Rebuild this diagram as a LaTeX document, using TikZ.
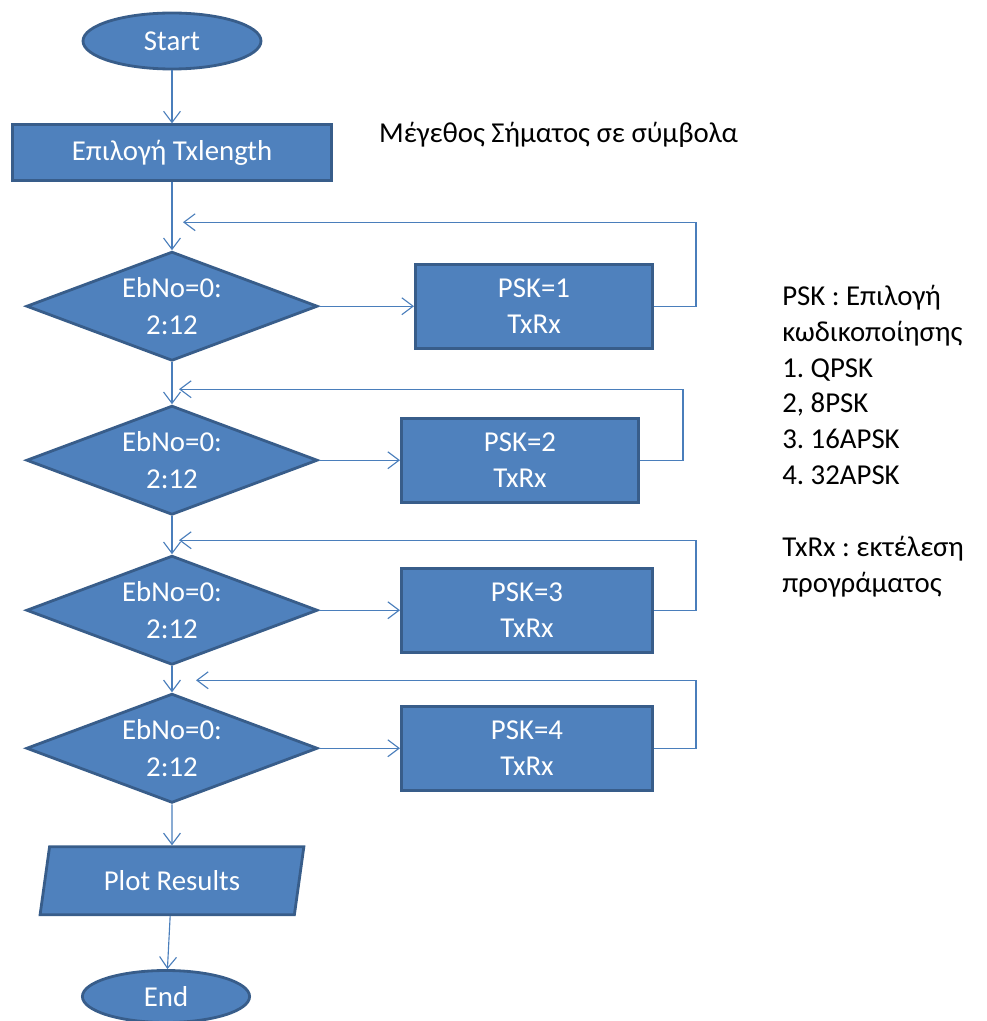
\documentclass[tikz,border=0pt]{standalone}
\usepackage{fontspec}
\setmainfont{Carlito}
\usetikzlibrary{shapes.geometric, positioning, arrows.meta}

\definecolor{boxfill}{HTML}{4F81BD}
\definecolor{boxline}{HTML}{385D8A}
\definecolor{flowline}{HTML}{4A7EBB}

\tikzset{
  base/.style={draw=boxline, fill=boxfill, line width=2pt, text=white,
    font=\fontsize{20.5}{26}\selectfont, align=center, inner sep=2pt},
  terminal/.style={base, ellipse, minimum width=4.45cm, minimum height=1.4cm},
  process/.style={base, rectangle, minimum width=5.93cm, minimum height=2.1cm},
  decision/.style={base, diamond, aspect=2.65, inner sep=0pt,
    minimum width=7.28cm, minimum height=2.73cm},
  io/.style={base, trapezium, trapezium left angle=78, trapezium right angle=102,
    trapezium stretches=true, minimum width=6.6cm, minimum height=1.7cm},
  flow/.style={draw=flowline, line width=0.8pt, -{Straight Barb[length=8pt,width=12pt]}},
  note/.style={font=\fontsize{20.5}{25.5}\selectfont\frenchspacing, align=left, inner sep=0pt}
}

\begin{document}
\begin{tikzpicture}
  \useasboundingbox (0,0) rectangle (24.65,-25.525);

  % main column
  \node[terminal] (start) at (4.3,-1.025) {Start};
  \node[base, minimum width=7.975cm, minimum height=1.4cm] (sel) [below=1.325cm of start] {Επιλογή Txlength};
  \node[decision] (d_1) [below=1.7cm of sel] {EbNo=0:\\2:12};
  \node[decision] (d_2) [below=1.05cm of d_1] {EbNo=0:\\2:12};
  \node[decision] (d_3) [below=0.95cm of d_2] {EbNo=0:\\2:12};
  \node[decision] (d_4) [below=0.65cm of d_3] {EbNo=0:\\2:12};
  \node[io] (plot) [below=1.025cm of d_4] {Plot Results};
  \node[terminal, minimum width=4.18cm, minimum height=1.3cm] (stop) [below=1.325cm of plot, xshift=-0.15cm] {End};

  % PSK runs
  \node[process] (p_1) [right=2.375cm of d_1] {PSK=1\\TxRx};
  \node[process] (p_2) [right=2.025cm of d_2] {PSK=2\\TxRx};
  \node[process, minimum width=6.28cm] (p_3) [right=2.025cm of d_3] {PSK=3\\TxRx};
  \node[process, minimum width=6.28cm] (p_4) [right=2.025cm of d_4] {PSK=4\\TxRx};

  % return points
  \coordinate[below=1cm of sel.south, xshift=0.275cm] (r_1);
  \coordinate[below=0.675cm of d_1.south, xshift=0.175cm] (r_2);
  \coordinate[below=0.6cm of d_2.south, xshift=0.175cm] (r_3);
  \coordinate[below=0.35cm of d_3.south, xshift=0.6cm] (r_4);

  % notes
  \node[note] (size) [right=1.15cm of sel, yshift=0.45cm] {Μέγεθος Σήματος σε σύμβολα};
  \node[note] (legend) [right=3.2cm of p_1.north east, anchor=north west, yshift=-0.55cm]
    {PSK : Επιλογή\\κωδικοποίησης\\1. QPSK\\2, 8PSK\\3. 16APSK\\4. 32APSK\\[25.5pt]TxRx : εκτέλεση\\προγράματος};

  \path[flow]
    (start) edge (sel)
    (sel) edge (d_1)
    (d_1) edge (d_2)
          edge (p_1)
    (d_2) edge (d_3)
          edge (p_2)
    (d_3) edge (d_4)
          edge (p_3)
    (d_4) edge (plot)
          edge (p_4)
    (plot) edge (stop);

  \draw[flow] (p_1.east) -- ++(1.05,0) |- (r_1);
  \draw[flow] (p_2.east) -- ++(1.075,0) |- (r_2);
  \draw[flow] (p_3.east) -- ++(1.05,0) |- (r_3);
  \draw[flow] (p_4.east) -- ++(1.05,0) |- (r_4);
\end{tikzpicture}
\end{document}
